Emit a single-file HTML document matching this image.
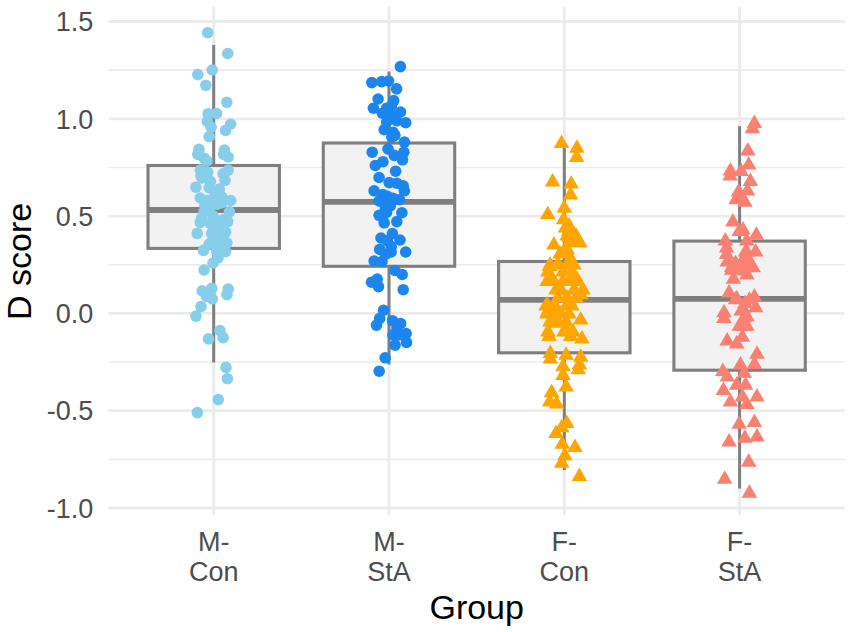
<!DOCTYPE html><html><head><meta charset="utf-8"><style>html,body{margin:0;padding:0;background:#fff;width:851px;height:632px;overflow:hidden}svg{display:block}text{font-family:"Liberation Sans",sans-serif}</style></head><body>
<svg width="851" height="632" viewBox="0 0 851 632">
<rect width="851" height="632" fill="#fff"/>
<path d="M108.5 70.15H844.8M108.5 167.45H844.8M108.5 264.75H844.8M108.5 362.05H844.8M108.5 459.35H844.8" stroke="#EBEBEB" stroke-width="1.6" fill="none"/>
<path d="M108.5 21.50H844.8M108.5 118.80H844.8M108.5 216.10H844.8M108.5 313.40H844.8M108.5 410.70H844.8M108.5 508.00H844.8M213.7 6.4V515.4M389.0 6.4V515.4M564.3 6.4V515.4M739.6 6.4V515.4" stroke="#EBEBEB" stroke-width="2.8" fill="none"/>
<path d="M213.7 45.1V165.5M213.7 248.4V362.5" stroke="#7F7F7F" stroke-width="3.0" fill="none"/>
<rect x="148.00" y="165.5" width="131.40" height="82.90" fill="#F2F2F2" stroke="#7F7F7F" stroke-width="3.1"/>
<path d="M148.00 210.0H279.40" stroke="#7F7F7F" stroke-width="5.8" fill="none"/>
<path d="M389.0 71.6V143.0M389.0 266.3V364.5" stroke="#7F7F7F" stroke-width="3.0" fill="none"/>
<rect x="323.30" y="143.0" width="131.40" height="123.30" fill="#F2F2F2" stroke="#7F7F7F" stroke-width="3.1"/>
<path d="M323.30 201.8H454.70" stroke="#7F7F7F" stroke-width="5.8" fill="none"/>
<path d="M564.3 148.0V261.5M564.3 352.8V470.0" stroke="#7F7F7F" stroke-width="3.0" fill="none"/>
<rect x="498.60" y="261.5" width="131.40" height="91.30" fill="#F2F2F2" stroke="#7F7F7F" stroke-width="3.1"/>
<path d="M498.60 299.9H630.00" stroke="#7F7F7F" stroke-width="5.8" fill="none"/>
<path d="M739.6 126.3V241.1M739.6 370.2V488.5" stroke="#7F7F7F" stroke-width="3.0" fill="none"/>
<rect x="673.90" y="241.1" width="131.40" height="129.10" fill="#F2F2F2" stroke="#7F7F7F" stroke-width="3.1"/>
<path d="M673.90 298.8H805.30" stroke="#7F7F7F" stroke-width="5.8" fill="none"/>
<g fill="#87CEEB"><circle cx="207.7" cy="32.7" r="5.8"/><circle cx="227.8" cy="53.5" r="5.8"/><circle cx="212.2" cy="70.0" r="5.8"/><circle cx="197.8" cy="74.6" r="5.8"/><circle cx="205.8" cy="85.3" r="5.8"/><circle cx="226.8" cy="102.3" r="5.8"/><circle cx="208.2" cy="113.7" r="5.8"/><circle cx="216.6" cy="113.5" r="5.8"/><circle cx="207.3" cy="121.5" r="5.8"/><circle cx="211.1" cy="127.2" r="5.8"/><circle cx="209.2" cy="136.7" r="5.8"/><circle cx="230.7" cy="124.0" r="5.8"/><circle cx="225.6" cy="130.4" r="5.8"/><circle cx="199.0" cy="149.4" r="5.8"/><circle cx="197.8" cy="154.4" r="5.8"/><circle cx="204.1" cy="158.2" r="5.8"/><circle cx="224.4" cy="150.0" r="5.8"/><circle cx="228.2" cy="157.0" r="5.8"/><circle cx="223.7" cy="154.4" r="5.8"/><circle cx="200.3" cy="170.1" r="5.8"/><circle cx="201.0" cy="175.8" r="5.8"/><circle cx="228.2" cy="170.1" r="5.8"/><circle cx="223.1" cy="173.9" r="5.8"/><circle cx="225.0" cy="180.3" r="5.8"/><circle cx="195.9" cy="187.2" r="5.8"/><circle cx="210.4" cy="181.5" r="5.8"/><circle cx="209.2" cy="187.8" r="5.8"/><circle cx="219.3" cy="189.1" r="5.8"/><circle cx="230.7" cy="200.5" r="5.8"/><circle cx="200.3" cy="198.0" r="5.8"/><circle cx="207.9" cy="200.5" r="5.8"/><circle cx="216.8" cy="204.3" r="5.8"/><circle cx="209.2" cy="208.1" r="5.8"/><circle cx="229.4" cy="211.9" r="5.8"/><circle cx="201.6" cy="218.2" r="5.8"/><circle cx="213.0" cy="215.7" r="5.8"/><circle cx="223.1" cy="219.5" r="5.8"/><circle cx="210.4" cy="223.3" r="5.8"/><circle cx="197.2" cy="233.4" r="5.8"/><circle cx="225.6" cy="232.2" r="5.8"/><circle cx="211.7" cy="233.4" r="5.8"/><circle cx="214.2" cy="228.4" r="5.8"/><circle cx="200.3" cy="222.5" r="5.8"/><circle cx="224.4" cy="222.5" r="5.8"/><circle cx="213.0" cy="239.0" r="5.8"/><circle cx="226.9" cy="242.8" r="5.8"/><circle cx="209.2" cy="244.0" r="5.8"/><circle cx="203.5" cy="250.4" r="5.8"/><circle cx="216.8" cy="251.6" r="5.8"/><circle cx="225.6" cy="251.6" r="5.8"/><circle cx="218.0" cy="258.0" r="5.8"/><circle cx="213.0" cy="263.0" r="5.8"/><circle cx="204.1" cy="270.0" r="5.8"/><circle cx="202.2" cy="290.9" r="5.8"/><circle cx="211.7" cy="288.4" r="5.8"/><circle cx="210.4" cy="296.0" r="5.8"/><circle cx="228.2" cy="289.0" r="5.8"/><circle cx="226.9" cy="294.7" r="5.8"/><circle cx="206.6" cy="296.5" r="5.8"/><circle cx="212.3" cy="299.0" r="5.8"/><circle cx="201.0" cy="306.6" r="5.8"/><circle cx="195.9" cy="316.1" r="5.8"/><circle cx="220.0" cy="330.6" r="5.8"/><circle cx="223.1" cy="337.6" r="5.8"/><circle cx="208.5" cy="338.9" r="5.8"/><circle cx="226.0" cy="367.4" r="5.8"/><circle cx="227.4" cy="378.7" r="5.8"/><circle cx="218.3" cy="399.6" r="5.8"/><circle cx="197.3" cy="412.6" r="5.8"/><circle cx="202.0" cy="178.0" r="5.8"/><circle cx="204.8" cy="205.5" r="5.8"/><circle cx="220.0" cy="229.2" r="5.8"/><circle cx="222.0" cy="202.6" r="5.8"/><circle cx="207.7" cy="172.3" r="5.8"/><circle cx="206.7" cy="160.9" r="5.8"/><circle cx="215.3" cy="194.0" r="5.8"/><circle cx="222.0" cy="197.0" r="5.8"/><circle cx="204.0" cy="212.0" r="5.8"/><circle cx="217.2" cy="223.5" r="5.8"/><circle cx="227.6" cy="221.6" r="5.8"/><circle cx="218.1" cy="236.8" r="5.8"/><circle cx="220.0" cy="246.3" r="5.8"/></g>
<g fill="#1C86EE"><circle cx="400.4" cy="66.6" r="5.8"/><circle cx="371.8" cy="82.6" r="5.8"/><circle cx="381.6" cy="81.6" r="5.8"/><circle cx="388.6" cy="81.0" r="5.8"/><circle cx="396.6" cy="88.9" r="5.8"/><circle cx="378.1" cy="99.0" r="5.8"/><circle cx="393.7" cy="100.6" r="5.8"/><circle cx="373.4" cy="108.2" r="5.8"/><circle cx="386.7" cy="108.2" r="5.8"/><circle cx="382.3" cy="113.2" r="5.8"/><circle cx="400.6" cy="112.0" r="5.8"/><circle cx="391.8" cy="114.5" r="5.8"/><circle cx="405.7" cy="122.7" r="5.8"/><circle cx="386.7" cy="122.1" r="5.8"/><circle cx="396.8" cy="120.8" r="5.8"/><circle cx="384.2" cy="129.7" r="5.8"/><circle cx="393.0" cy="132.2" r="5.8"/><circle cx="391.8" cy="137.0" r="5.8"/><circle cx="404.4" cy="142.1" r="5.8"/><circle cx="372.2" cy="152.2" r="5.8"/><circle cx="388.0" cy="149.0" r="5.8"/><circle cx="394.3" cy="155.4" r="5.8"/><circle cx="403.8" cy="152.2" r="5.8"/><circle cx="402.5" cy="159.8" r="5.8"/><circle cx="382.9" cy="161.7" r="5.8"/><circle cx="375.3" cy="165.5" r="5.8"/><circle cx="395.6" cy="171.2" r="5.8"/><circle cx="379.1" cy="177.5" r="5.8"/><circle cx="389.2" cy="182.6" r="5.8"/><circle cx="396.8" cy="183.2" r="5.8"/><circle cx="403.2" cy="185.8" r="5.8"/><circle cx="374.1" cy="190.8" r="5.8"/><circle cx="404.4" cy="190.8" r="5.8"/><circle cx="382.9" cy="194.6" r="5.8"/><circle cx="379.1" cy="201.0" r="5.8"/><circle cx="393.0" cy="198.4" r="5.8"/><circle cx="399.4" cy="199.7" r="5.8"/><circle cx="385.4" cy="207.7" r="5.8"/><circle cx="379.1" cy="215.3" r="5.8"/><circle cx="401.9" cy="212.7" r="5.8"/><circle cx="384.2" cy="222.8" r="5.8"/><circle cx="396.8" cy="221.6" r="5.8"/><circle cx="381.0" cy="238.0" r="5.8"/><circle cx="392.4" cy="233.6" r="5.8"/><circle cx="400.0" cy="240.0" r="5.8"/><circle cx="379.7" cy="249.4" r="5.8"/><circle cx="391.1" cy="252.0" r="5.8"/><circle cx="405.7" cy="252.0" r="5.8"/><circle cx="374.1" cy="261.0" r="5.8"/><circle cx="382.0" cy="261.5" r="5.8"/><circle cx="395.0" cy="270.5" r="5.8"/><circle cx="402.2" cy="274.5" r="5.8"/><circle cx="371.5" cy="282.2" r="5.8"/><circle cx="377.2" cy="279.0" r="5.8"/><circle cx="378.5" cy="286.6" r="5.8"/><circle cx="403.2" cy="289.7" r="5.8"/><circle cx="383.5" cy="310.2" r="5.8"/><circle cx="379.7" cy="318.4" r="5.8"/><circle cx="376.5" cy="325.1" r="5.8"/><circle cx="392.6" cy="320.7" r="5.8"/><circle cx="400.7" cy="323.5" r="5.8"/><circle cx="397.0" cy="327.7" r="5.8"/><circle cx="406.1" cy="333.5" r="5.8"/><circle cx="393.0" cy="334.9" r="5.8"/><circle cx="398.9" cy="335.0" r="5.8"/><circle cx="406.5" cy="342.4" r="5.8"/><circle cx="395.1" cy="345.1" r="5.8"/><circle cx="385.1" cy="357.8" r="5.8"/><circle cx="379.2" cy="371.2" r="5.8"/><circle cx="394.9" cy="135.4" r="5.8"/><circle cx="391.5" cy="105.5" r="5.8"/><circle cx="387.4" cy="196.3" r="5.8"/><circle cx="390.3" cy="205.8" r="5.8"/><circle cx="386.5" cy="212.4" r="5.8"/><circle cx="387.4" cy="240.9" r="5.8"/><circle cx="385.5" cy="254.2" r="5.8"/><circle cx="391.2" cy="246.6" r="5.8"/></g>
<path fill="#FFA500" d="M553.7 147.9L569.3 147.9L561.5 134.4ZM569.1 152.7L584.7 152.7L576.9 139.2ZM568.8 162.1L584.4 162.1L576.6 148.6ZM544.8 186.5L560.4 186.5L552.6 173.0ZM563.4 188.4L579.0 188.4L571.2 174.9ZM562.8 199.5L578.4 199.5L570.6 186.0ZM556.4 212.8L572.0 212.8L564.2 199.3ZM540.0 218.9L555.6 218.9L547.8 205.4ZM555.8 224.2L571.4 224.2L563.6 210.7ZM560.9 235.6L576.5 235.6L568.7 222.1ZM561.5 241.9L577.1 241.9L569.3 228.4ZM569.1 247.0L584.7 247.0L576.9 233.5ZM546.1 249.5L561.7 249.5L553.9 236.0ZM557.7 253.3L573.3 253.3L565.5 239.8ZM559.5 254.3L575.1 254.3L567.3 240.8ZM541.9 271.1L557.5 271.1L549.7 257.6ZM550.1 268.5L565.7 268.5L557.9 255.0ZM562.1 269.8L577.7 269.8L569.9 256.3ZM539.4 286.0L555.0 286.0L547.2 272.5ZM555.2 286.0L570.8 286.0L563.0 272.5ZM570.4 286.0L586.0 286.0L578.2 272.5ZM564.7 285.5L580.3 285.5L572.5 272.0ZM553.9 295.5L569.5 295.5L561.7 282.0ZM572.9 299.3L588.5 299.3L580.7 285.8ZM559.0 310.0L574.6 310.0L566.8 296.5ZM539.7 309.4L555.3 309.4L547.5 295.9ZM539.7 316.4L555.3 316.4L547.5 302.9ZM548.8 317.0L564.4 317.0L556.6 303.5ZM545.7 327.8L561.3 327.8L553.5 314.3ZM557.7 333.5L573.3 333.5L565.5 320.0ZM572.9 324.6L588.5 324.6L580.7 311.1ZM541.2 341.1L556.8 341.1L549.0 327.6ZM562.8 341.1L578.4 341.1L570.6 327.6ZM574.2 343.6L589.8 343.6L582.0 330.1ZM542.5 357.9L558.1 357.9L550.3 344.4ZM542.5 363.6L558.1 363.6L550.3 350.1ZM558.3 359.8L573.9 359.8L566.1 346.3ZM572.9 361.7L588.5 361.7L580.7 348.2ZM555.2 371.2L570.8 371.2L563.0 357.7ZM571.6 369.3L587.2 369.3L579.4 355.8ZM570.4 374.3L586.0 374.3L578.2 360.8ZM555.2 380.0L570.8 380.0L563.0 366.5ZM558.3 391.4L573.9 391.4L566.1 377.9ZM543.8 397.1L559.4 397.1L551.6 383.6ZM541.9 406.6L557.5 406.6L549.7 393.1ZM548.8 408.5L564.4 408.5L556.6 395.0ZM559.0 427.9L574.6 427.9L566.8 414.4ZM553.9 432.3L569.5 432.3L561.7 418.8ZM548.2 438.0L563.8 438.0L556.0 424.5ZM554.5 448.8L570.1 448.8L562.3 435.3ZM567.2 451.9L582.8 451.9L575.0 438.4ZM557.1 460.2L572.7 460.2L564.9 446.7ZM553.9 467.8L569.5 467.8L561.7 454.3ZM571.6 481.1L587.2 481.1L579.4 467.6ZM557.7 232.5L573.3 232.5L565.5 219.0ZM561.2 230.5L576.8 230.5L569.0 217.0ZM559.2 240.5L574.8 240.5L567.0 227.0ZM568.2 240.5L583.8 240.5L576.0 227.0ZM563.2 247.5L578.8 247.5L571.0 234.0ZM572.2 247.5L587.8 247.5L580.0 234.0ZM552.2 258.5L567.8 258.5L560.0 245.0ZM560.2 258.5L575.8 258.5L568.0 245.0ZM542.2 269.5L557.8 269.5L550.0 256.0ZM550.2 269.5L565.8 269.5L558.0 256.0ZM559.2 269.5L574.8 269.5L567.0 256.0ZM566.2 269.5L581.8 269.5L574.0 256.0ZM540.2 276.5L555.8 276.5L548.0 263.0ZM555.2 276.5L570.8 276.5L563.0 263.0ZM564.2 276.5L579.8 276.5L572.0 263.0ZM540.2 284.5L555.8 284.5L548.0 271.0ZM545.2 284.5L560.8 284.5L553.0 271.0ZM562.2 284.5L577.8 284.5L570.0 271.0ZM569.2 284.5L584.8 284.5L577.0 271.0ZM548.2 294.5L563.8 294.5L556.0 281.0ZM566.2 294.5L581.8 294.5L574.0 281.0ZM575.2 294.5L590.8 294.5L583.0 281.0ZM550.2 302.5L565.8 302.5L558.0 289.0ZM559.2 302.5L574.8 302.5L567.0 289.0ZM568.2 302.5L583.8 302.5L576.0 289.0ZM538.2 310.5L553.8 310.5L546.0 297.0ZM547.2 310.5L562.8 310.5L555.0 297.0ZM564.2 310.5L579.8 310.5L572.0 297.0ZM539.2 318.5L554.8 318.5L547.0 305.0ZM545.2 318.5L560.8 318.5L553.0 305.0ZM553.2 318.5L568.8 318.5L561.0 305.0ZM561.2 318.5L576.8 318.5L569.0 305.0ZM542.2 326.5L557.8 326.5L550.0 313.0ZM550.2 326.5L565.8 326.5L558.0 313.0ZM558.2 326.5L573.8 326.5L566.0 313.0ZM540.2 336.5L555.8 336.5L548.0 323.0ZM556.2 336.5L571.8 336.5L564.0 323.0ZM565.2 336.5L580.8 336.5L573.0 323.0Z"/>
<path fill="#FA8072" d="M746.6 127.9L762.2 127.9L754.4 114.4ZM744.7 133.2L760.3 133.2L752.5 119.7ZM740.0 155.4L755.6 155.4L747.8 141.9ZM740.9 169.4L756.5 169.4L748.7 155.9ZM722.6 175.4L738.2 175.4L730.4 161.9ZM722.3 180.4L737.9 180.4L730.1 166.9ZM733.3 176.0L748.9 176.0L741.1 162.5ZM742.6 186.1L758.2 186.1L750.4 172.6ZM739.7 195.4L755.3 195.4L747.5 181.9ZM730.8 196.6L746.4 196.6L738.6 183.1ZM728.3 204.2L743.9 204.2L736.1 190.7ZM737.1 206.7L752.7 206.7L744.9 193.2ZM725.1 226.4L740.7 226.4L732.9 212.9ZM735.2 234.6L750.8 234.6L743.0 221.1ZM731.4 236.0L747.0 236.0L739.2 222.5ZM748.5 239.7L764.1 239.7L756.3 226.2ZM739.0 245.4L754.6 245.4L746.8 231.9ZM717.5 245.4L733.1 245.4L725.3 231.9ZM718.8 252.5L734.4 252.5L726.6 239.0ZM737.8 256.5L753.4 256.5L745.6 243.0ZM747.9 256.5L763.5 256.5L755.7 243.0ZM718.8 259.0L734.4 259.0L726.6 245.5ZM719.4 266.6L735.0 266.6L727.2 253.1ZM736.5 262.8L752.1 262.8L744.3 249.3ZM745.4 272.3L761.0 272.3L753.2 258.8ZM736.5 275.5L752.1 275.5L744.3 262.0ZM723.8 274.8L739.4 274.8L731.6 261.3ZM725.7 283.7L741.3 283.7L733.5 270.2ZM721.3 297.6L736.9 297.6L729.1 284.1ZM728.9 303.3L744.5 303.3L736.7 289.8ZM746.6 301.4L762.2 301.4L754.4 287.9ZM741.6 304.6L757.2 304.6L749.4 291.1ZM747.9 312.2L763.5 312.2L755.7 298.7ZM735.2 313.5L750.8 313.5L743.0 300.0ZM716.2 317.3L731.8 317.3L724.0 303.8ZM716.2 322.9L731.8 322.9L724.0 309.4ZM736.5 322.3L752.1 322.3L744.3 308.8ZM736.5 330.9L752.1 330.9L744.3 317.4ZM719.4 345.5L735.0 345.5L727.2 332.0ZM728.9 348.6L744.5 348.6L736.7 335.1ZM734.6 341.7L750.2 341.7L742.4 328.2ZM749.2 358.8L764.8 358.8L757.0 345.3ZM746.6 368.9L762.2 368.9L754.4 355.4ZM732.7 369.5L748.3 369.5L740.5 356.0ZM715.0 375.9L730.6 375.9L722.8 362.4ZM719.4 381.6L735.0 381.6L727.2 368.1ZM736.5 377.8L752.1 377.8L744.3 364.3ZM728.9 389.8L744.5 389.8L736.7 376.3ZM737.8 389.8L753.4 389.8L745.6 376.3ZM715.6 395.0L731.2 395.0L723.4 381.5ZM749.2 401.6L764.8 401.6L757.0 388.1ZM722.6 406.6L738.2 406.6L730.4 393.1ZM734.6 401.6L750.2 401.6L742.4 388.1ZM739.0 409.1L754.6 409.1L746.8 395.6ZM746.6 426.9L762.2 426.9L754.4 413.4ZM731.4 428.8L747.0 428.8L739.2 415.3ZM737.1 442.7L752.7 442.7L744.9 429.2ZM749.2 441.4L764.8 441.4L757.0 427.9ZM721.3 446.5L736.9 446.5L729.1 433.0ZM740.9 466.7L756.5 466.7L748.7 453.2ZM716.9 483.8L732.5 483.8L724.7 470.3ZM741.6 497.7L757.2 497.7L749.4 484.2ZM739.1 256.8L754.7 256.8L746.9 243.3ZM742.9 268.1L758.5 268.1L750.7 254.6ZM735.3 271.9L750.9 271.9L743.1 258.4ZM727.7 268.1L743.3 268.1L735.5 254.6ZM723.9 271.9L739.5 271.9L731.7 258.4ZM739.1 279.5L754.7 279.5L746.9 266.0ZM737.2 308.0L752.8 308.0L745.0 294.5ZM733.4 315.5L749.0 315.5L741.2 302.0ZM739.1 321.3L754.7 321.3L746.9 307.8ZM731.5 330.8L747.1 330.8L739.3 317.3ZM739.1 330.8L754.7 330.8L746.9 317.3ZM727.7 304.2L743.3 304.2L735.5 290.7ZM732.7 201.0L748.3 201.0L740.5 187.5Z"/>
<text x="93.2" y="31.2" font-size="27" fill="#4D4D4D" text-anchor="end">1.5</text>
<text x="93.2" y="128.5" font-size="27" fill="#4D4D4D" text-anchor="end">1.0</text>
<text x="93.2" y="225.8" font-size="27" fill="#4D4D4D" text-anchor="end">0.5</text>
<text x="93.2" y="323.1" font-size="27" fill="#4D4D4D" text-anchor="end">0.0</text>
<text x="93.2" y="420.4" font-size="27" fill="#4D4D4D" text-anchor="end">-0.5</text>
<text x="93.2" y="517.7" font-size="27" fill="#4D4D4D" text-anchor="end">-1.0</text>
<text x="213.7" y="551" font-size="27" fill="#4D4D4D" text-anchor="middle">M-</text>
<text x="213.7" y="580.8" font-size="27" fill="#4D4D4D" text-anchor="middle">Con</text>
<text x="389.0" y="551" font-size="27" fill="#4D4D4D" text-anchor="middle">M-</text>
<text x="389.0" y="580.8" font-size="27" fill="#4D4D4D" text-anchor="middle">StA</text>
<text x="564.3" y="551" font-size="27" fill="#4D4D4D" text-anchor="middle">F-</text>
<text x="564.3" y="580.8" font-size="27" fill="#4D4D4D" text-anchor="middle">Con</text>
<text x="739.6" y="551" font-size="27" fill="#4D4D4D" text-anchor="middle">F-</text>
<text x="739.6" y="580.8" font-size="27" fill="#4D4D4D" text-anchor="middle">StA</text>
<text x="476.7" y="619.4" font-size="34" fill="#000" text-anchor="middle">Group</text>
<text transform="translate(31,261.4) rotate(-90)" font-size="34" fill="#000" text-anchor="middle">D score</text>
</svg></body></html>
